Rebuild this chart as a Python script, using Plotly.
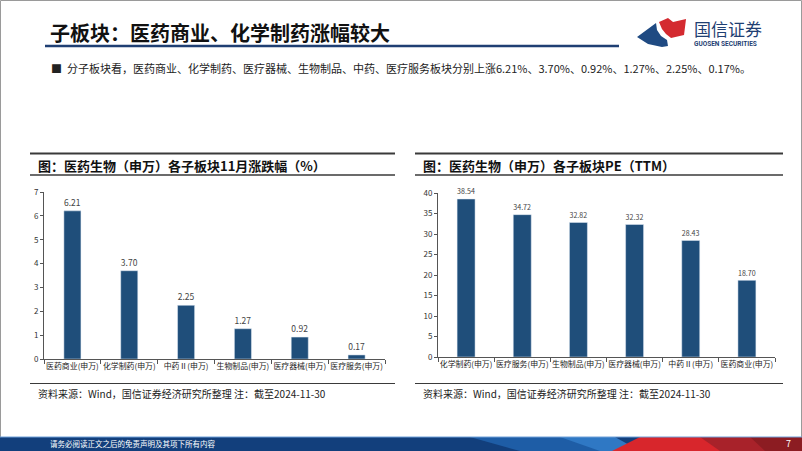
import plotly.graph_objects as go

W, H = 802, 451

# 左图：11月涨跌幅（%）
chg_cats = ["医药商业(申万)", "化学制药(申万)", "中药Ⅱ(申万)", "生物制品(申万)", "医疗器械(申万)", "医疗服务(申万)"]
chg_vals = [6.21, 3.70, 2.25, 1.27, 0.92, 0.17]

# 右图：PE(TTM)
pe_cats = ["化学制药(申万)", "医疗服务(申万)", "生物制品(申万)", "医疗器械(申万)", "中药Ⅱ(申万)", "医药商业(申万)"]
pe_vals = [38.54, 34.72, 32.82, 32.32, 28.43, 18.70]

BAR = "#1F4E7A"
FONT = "Noto Sans CJK SC"


def px(x):
    return x / W


def py(y):
    return 1 - y / H


def path(points):
    # 像素坐标 -> paper 坐标的折线路径
    s = "M " + " L ".join(f"{px(x):.4f},{py(y):.4f}" for x, y in points) + " Z"
    return s


fig = go.Figure()

fig.add_trace(go.Bar(
    x=chg_cats, y=chg_vals, xaxis="x", yaxis="y",
    marker_color=BAR, width=0.3,
    text=[f"{v:.2f}" for v in chg_vals], textposition="outside",
    textfont=dict(size=8.5, color="#444"), cliponaxis=False,
))
fig.add_trace(go.Bar(
    x=pe_cats, y=pe_vals, xaxis="x2", yaxis="y2",
    marker_color=BAR, width=0.32,
    text=[f"{v:.2f}" for v in pe_vals], textposition="outside",
    textfont=dict(size=8.5, color="#444"), cliponaxis=False,
))

axis_common = dict(showgrid=False, zeroline=False, showline=True, linecolor="#555", linewidth=1,
                   ticks="outside", ticklen=3, tickcolor="#555", tickfont=dict(size=8, color="#333"),
                   automargin=False, fixedrange=True)
xcat = dict(axis_common, type="category", tickson="boundaries", ticklen=4, tickangle=0,
            tickfont=dict(size=7.9, color="#222"))

fig.update_layout(
    width=W, height=H, margin=dict(l=0, r=0, t=0, b=0, autoexpand=False),
    paper_bgcolor="white", plot_bgcolor="white", showlegend=False,
    font=dict(family=FONT, color="#222"),
    xaxis=dict(xcat, domain=[px(44), px(385)], anchor="y"),
    yaxis=dict(axis_common, domain=[py(359), py(192)], range=[0, 7], dtick=1, anchor="x"),
    xaxis2=dict(xcat, domain=[px(438), px(775)], anchor="y2"),
    yaxis2=dict(axis_common, domain=[py(357), py(193)], range=[0, 40], dtick=5, anchor="x2"),
)

shapes = []
ann = []

# 页面边框
shapes.append(dict(type="rect", xref="paper", yref="paper", x0=px(0.5), x1=px(801.5), y0=py(450), y1=py(0.5),
                   line=dict(color="#9a9a9a", width=1)))

# 主标题及下划线
ann.append(dict(text="<b>子板块：医药商业、化学制药涨幅较大</b>", x=px(48), y=py(33), xanchor="left", yanchor="middle",
                font=dict(size=20, color="#111")))
shapes.append(dict(type="line", xref="paper", yref="paper", x0=px(45), x1=px(619), y0=py(46), y1=py(46),
                   line=dict(color="#1F3F73", width=2.5)))

# 公司标识
shapes.append(dict(type="path", xref="paper", yref="paper", fillcolor="#1F4A82", line=dict(width=0),
                   path=path([(637, 37), (656, 23), (657, 30), (661, 36), (667, 40), (668, 46), (662, 47), (648, 44)])))
shapes.append(dict(type="path", xref="paper", yref="paper", fillcolor="#D42A30", line=dict(width=0),
                   path=path([(659, 22), (668, 18), (673, 22), (686, 19), (684, 35), (671, 38), (666, 34), (662, 29)])))
ann.append(dict(text="国信证券", x=px(692), y=py(28), xanchor="left", yanchor="middle",
                font=dict(size=17, color="#1F3F73")))
ann.append(dict(text="<b>GUOSEN SECURITIES</b>", x=px(692), y=py(44), xanchor="left", yanchor="middle",
                font=dict(size=6.5, color="#1F3F73", family="Roboto")))

# 要点
ann.append(dict(text="■  分子板块看，医药商业、化学制药、医疗器械、生物制品、中药、医疗服务板块分别上涨6.21%、3.70%、0.92%、1.27%、2.25%、0.17%。",
                x=px(49), y=py(68), xanchor="left", yanchor="middle", font=dict(size=11, color="#222")))

# 图表标题框与来源
for x0, x1, title in [(30, 395, "图：医药生物（申万）各子板块11月涨跌幅（%）"),
                      (415, 783, "图：医药生物（申万）各子板块PE（TTM）")]:
    shapes.append(dict(type="line", xref="paper", yref="paper", x0=px(x0), x1=px(x1), y0=py(153.5), y1=py(153.5),
                       line=dict(color="#3a3a3a", width=2)))
    shapes.append(dict(type="line", xref="paper", yref="paper", x0=px(x0), x1=px(x1), y0=py(175), y1=py(175),
                       line=dict(color="#3a3a3a", width=1.5)))
    shapes.append(dict(type="line", xref="paper", yref="paper", x0=px(x0), x1=px(x1), y0=py(383.5), y1=py(383.5),
                       line=dict(color="#3a3a3a", width=1.2)))
    ann.append(dict(text=f"<b>{title}</b>", x=px(x0 + 6), y=py(165), xanchor="left", yanchor="middle",
                    font=dict(size=13, color="#111")))
    ann.append(dict(text="资料来源：Wind，国信证券经济研究所整理 注：截至2024-11-30", x=px(x0 + 6), y=py(393),
                    xanchor="left", yanchor="middle", font=dict(size=10, color="#222")))

# 页脚
shapes.append(dict(type="rect", xref="paper", yref="paper", x0=0, x1=1, y0=0, y1=py(437),
                   fillcolor="#123F7C", line=dict(width=0), layer="above"))
shapes.append(dict(type="path", xref="paper", yref="paper", fillcolor="#1E5DA6", line=dict(width=0), layer="above",
                   path=path([(470, 437), (600, 437), (630, 451), (520, 451)])))
shapes.append(dict(type="path", xref="paper", yref="paper", fillcolor="#2F78C4", line=dict(width=0), layer="above",
                   path=path([(560, 437), (615, 437), (640, 451), (600, 451)])))
shapes.append(dict(type="path", xref="paper", yref="paper", fillcolor="#D8262C", line=dict(width=0), layer="above",
                   path=path([(640, 437), (802, 437), (802, 451), (612, 451)])))
shapes.append(dict(type="path", xref="paper", yref="paper", fillcolor="#A8222A", line=dict(width=0), layer="above",
                   path=path([(700, 437), (802, 437), (802, 451), (720, 451)])))
shapes.append(dict(type="path", xref="paper", yref="paper", fillcolor="#8C1C22", line=dict(width=0), layer="above",
                   path=path([(750, 437), (802, 437), (802, 451), (765, 451)])))
shapes.append(dict(type="line", xref="paper", yref="paper", x0=0, x1=1, y0=py(437), y1=py(437),
                   line=dict(color="#6FA0D8", width=1), layer="above"))
ann.append(dict(text="请务必阅读正文之后的免责声明及其项下所有内容", x=px(48), y=py(443.5), xanchor="left", yanchor="middle",
                font=dict(size=7.5, color="white")))
ann.append(dict(text="7", x=px(788), y=py(443.5), xanchor="center", yanchor="middle",
                font=dict(size=9, color="white")))

for a in ann:
    a.update(xref="paper", yref="paper", showarrow=False)

fig.update_layout(shapes=shapes, annotations=ann)

# 去掉页面默认边距，让 802x451 的图刚好铺满窗口
fig.write_html("out.html", config={"displayModeBar": False},
               post_script="document.body.style.margin='0';document.body.style.overflow='hidden';")
